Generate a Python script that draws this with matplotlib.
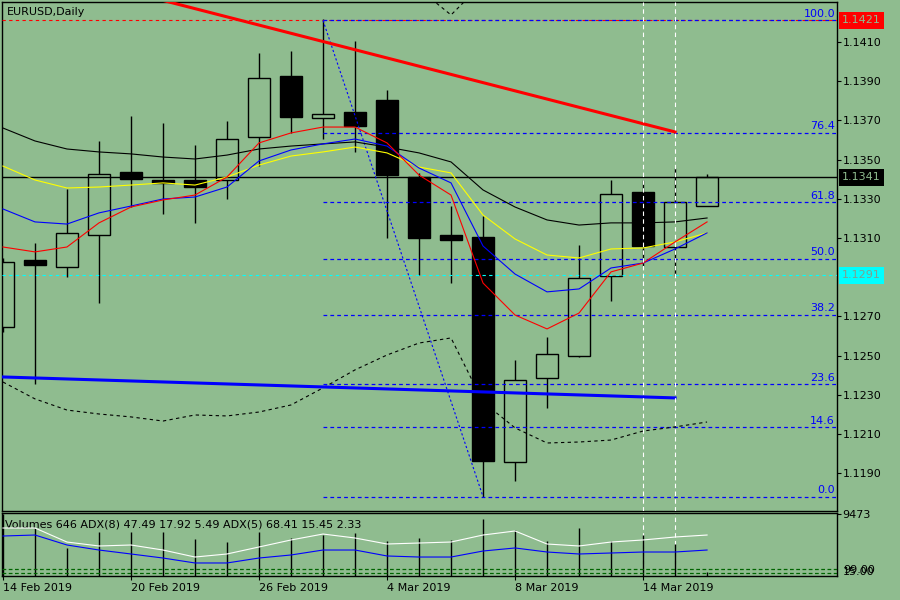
import numpy as np
import matplotlib
matplotlib.use("Agg")
import matplotlib.pyplot as plt

BG = "#8fbc8f"

# daily candles, 14 Feb .. 18 Mar 2019 (index = bar number)
opens = [1.12646, 1.12988, 1.12952, 1.13115, 1.13437, 1.13396, 1.13396, 1.13396,
         1.13615, 1.13927, 1.13712, 1.13743, 1.13804, 1.13411, 1.13115, 1.13105,
         1.11957, 1.12386, 1.12498, 1.12906, 1.13335, 1.13054, 1.13263]
highs = [1.13000, 1.13074, 1.13350, 1.13595, 1.13722, 1.13687, 1.13575, 1.13697,
         1.14044, 1.14054, 1.14217, 1.14105, 1.13855, 1.13432, 1.13263, 1.13212,
         1.12478, 1.12595, 1.13064, 1.13396, 1.13396, 1.13457, 1.13427]
lows = [1.12620, 1.12355, 1.12901, 1.12768, 1.13258, 1.13222, 1.13177, 1.13299,
        1.13467, 1.13636, 1.13605, 1.13539, 1.13100, 1.12911, 1.12870, 1.11779,
        1.11860, 1.12233, 1.12493, 1.12779, 1.12957, 1.12908, 1.13263]
closes = [1.12978, 1.12962, 1.13126, 1.13427, 1.13401, 1.13380, 1.13360, 1.13605,
          1.13916, 1.13717, 1.13733, 1.13671, 1.13421, 1.13100, 1.13090, 1.11962,
          1.12376, 1.12508, 1.12896, 1.13324, 1.13059, 1.13284, 1.13411]

ma_red = [1.13054, 1.13029, 1.13054, 1.13177, 1.13258, 1.13294, 1.13319, 1.13411,
          1.13585, 1.13636, 1.13666, 1.13666, 1.13585, 1.13421, 1.13319, 1.12870,
          1.12707, 1.12636, 1.12717, 1.12927, 1.12972, 1.13080, 1.13182]
ma_blue = [1.13248, 1.13182, 1.13171, 1.13228, 1.13263, 1.13299, 1.13309, 1.13360,
           1.13493, 1.13549, 1.13580, 1.13605, 1.13569, 1.13457, 1.13381, 1.13059,
           1.12916, 1.12825, 1.12840, 1.12947, 1.12972, 1.13044, 1.13126]
ma_yellow = [1.13467, 1.13396, 1.13355, 1.13360, 1.13370, 1.13381, 1.13370, 1.13411,
             1.13472, 1.13518, 1.13539, 1.13564, 1.13534, 1.13462, 1.13432, 1.13217,
             1.13095, 1.13013, 1.12998, 1.13044, 1.13049, 1.13080, 1.13126]
ma_black = [1.13661, 1.13595, 1.13554, 1.13539, 1.13529, 1.13513, 1.13503, 1.13523,
            1.13554, 1.13569, 1.13580, 1.13590, 1.13564, 1.13534, 1.13488, 1.13345,
            1.13258, 1.13192, 1.13166, 1.13177, 1.13177, 1.13182, 1.13202]
band_low = [1.12365, 1.12279, 1.12222, 1.12202, 1.12187, 1.12166, 1.12197, 1.12192,
            1.12212, 1.12248, 1.12335, 1.12427, 1.12503, 1.12564, 1.12590, 1.12263,
            1.12131, 1.12054, 1.12059, 1.12069, 1.12115, 1.12136, 1.12161]
band_up = [np.nan] * 13 + [1.14370, 1.14238, 1.14401] + [np.nan] * 7

volumes = [9473, 7334, 4278, 6723, 6723, 6723, 5653, 5195, 6723, 5806, 6264, 6570,
           5348, 5806, 5500, 8709, 7028, 5348, 7334, 5348, 6264, 4889, 646]
adx_white = [77.4, 77.4, 54.8, 48.4, 50.0, 41.9, 30.6, 35.5, 46.8, 58.1, 67.7, 61.3,
             51.6, 53.2, 54.8, 66.1, 72.6, 51.6, 48.4, 54.8, 58.1, 62.9, 66.1]
adx_blue = [64.5, 66.1, 50.0, 41.9, 35.5, 29.0, 21.0, 21.0, 29.0, 33.9, 41.9, 41.9,
            32.3, 30.6, 30.6, 40.3, 45.2, 38.7, 35.5, 37.1, 38.7, 38.7, 41.9]
adx_levels = [10.5, 5.6]

date_ticks = [0, 4, 8, 12, 16, 20]
date_labels = ["14 Feb 2019", "20 Feb 2019", "26 Feb 2019", "4 Mar 2019",
               "8 Mar 2019", "14 Mar 2019"]
price_ticks = [1.1410, 1.1390, 1.1370, 1.1350, 1.1330, 1.1310,
               1.1270, 1.1250, 1.1230, 1.1210, 1.1190]

fib_hi, fib_lo = 1.1421, 1.1178
fib_start, fib_end = 10, 15
fib_ratios = [0.0, 14.6, 23.6, 38.2, 50.0, 61.8, 76.4, 100.0]
red_trend = ([3, 21], [1.14396, 1.13641])
blue_trend = ([-0.03, 21], [1.12391, 1.12284])
last_price = 1.1341
cyan_price = 1.1291
vlines_k = [20, 21]

plt.rcParams['font.family'] = ['DejaVu Sans']
fig = plt.figure(figsize=(9, 6), dpi=100, facecolor=BG)
ax = fig.add_axes([2/900, 1 - 511/600, 835/900, 509/600], facecolor=BG)
axv = fig.add_axes([2/900, 1 - 576/600, 835/900, 63/600], facecolor=BG)

x = np.arange(len(opens))
ax.set_xlim(-0.03, 26.06)
ax.set_ylim(1.11707, 1.14304)

# candles
for i in x:
    o, h, l, c = opens[i], highs[i], lows[i], closes[i]
    top, bot = max(o, c), min(o, c)
    ax.vlines(i, top, h, color="black", lw=1, zorder=2)
    ax.vlines(i, l, bot, color="black", lw=1, zorder=2)
    if c >= o:
        ax.bar(i, top - bot, bottom=bot, width=0.69, facecolor="none",
               edgecolor="black", lw=1, zorder=2)
    else:
        ax.bar(i, max(top - bot, 0.00003), bottom=bot, width=0.69,
               facecolor="black", edgecolor="black", lw=1, zorder=2)

# horizontal levels
ax.axhline(last_price, color="black", lw=1, zorder=3)
ax.axhline(cyan_price, color="cyan", lw=0.8, ls=(0, (3, 3)), zorder=3)
ax.axhline(fib_hi, color="red", lw=0.8, ls=(0, (3, 3)), zorder=3)

# fibo
for r in fib_ratios:
    lvl = fib_lo + (fib_hi - fib_lo) * r / 100
    ax.plot([fib_start, 26.06], [lvl, lvl], color="blue", lw=0.9,
            ls=(0, (3, 2.5)), zorder=4)
    ax.annotate(f"{r:.1f}", xy=(0.9976, lvl), xycoords=("axes fraction", "data"),
                xytext=(0, 1), textcoords="offset points", ha="right", va="bottom",
                color="blue", fontsize=8)
ax.plot([fib_start, fib_end], [fib_hi, fib_lo], color="blue", lw=0.8,
        ls=(0, (2, 2)), zorder=4)

# moving averages and bands
ax.plot(x, ma_black, color="black", lw=0.8, zorder=5)
ax.plot(x, ma_yellow, color="yellow", lw=0.8, zorder=5)
ax.plot(x, ma_blue, color="blue", lw=0.8, zorder=5)
ax.plot(x, ma_red, color="red", lw=0.8, zorder=5)
ax.plot(x, band_low, color="black", lw=0.8, ls=(0, (3, 3)), zorder=5)
ax.plot(x, band_up, color="black", lw=0.8, ls=(0, (3, 3)), zorder=5)

# trend lines
ax.plot(*red_trend, color="red", lw=2.2, zorder=6)
ax.plot(*blue_trend, color="blue", lw=2.2, zorder=6)

for k in vlines_k:
    ax.axvline(k, color="white", lw=0.8, ls=(0, (4, 3)), zorder=6)
    axv.axvline(k, color="white", lw=0.8, ls=(0, (4, 3)), zorder=1)

ax.text(0.006, 0.980, "EURUSD,Daily", transform=ax.transAxes, fontsize=8,
        va="center", ha="left")

ax.set_xticks([])
ax.yaxis.tick_right()
ax.set_yticks(price_ticks)
ax.set_yticklabels([f"{t:.4f}" for t in price_ticks])
ax.tick_params(axis="y", direction="out", length=3, width=0.8, pad=1, labelsize=8)

for price, fc, tc in [(fib_hi, "red", BG), (last_price, "black", BG),
                      (cyan_price, "cyan", "#7fa090")]:
    ax.annotate(f"{price:.4f}", xy=(1.0, price), xycoords=("axes fraction", "data"),
                xytext=(3.5, 0), textcoords="offset points", ha="left", va="center",
                fontsize=8, color=tc, annotation_clip=False,
                bbox=dict(boxstyle="square,pad=0.3", fc=fc, ec="none"))

for sp in ax.spines.values():
    sp.set_color("black")
    sp.set_linewidth(1)

# indicator window
axv.set_xlim(-0.03, 26.06)
axv.set_ylim(0, 9473 * 63 / 62)
axv.vlines(x, 0, volumes, color="black", lw=1, zorder=2)
axa = axv.twinx()
axa.set_ylim(0, 100 * 63 / 62)
axa.plot(x, adx_white, color="white", lw=0.8)
axa.plot(x, adx_blue, color="blue", lw=0.8)
for lv in adx_levels:
    axa.axhline(lv, color="#006400", lw=0.9, ls=(0, (3, 2)))
axa.set_yticks([])
for sp in axa.spines.values():
    sp.set_visible(False)

axv.yaxis.tick_right()
axv.set_yticks([9473])
axv.set_yticklabels(["9473"])
axv.tick_params(axis="y", direction="out", length=3, width=0.8, pad=1, labelsize=8)
# two level labels that sit almost on top of each other, as in the terminal
axv.annotate("99.00", xy=(1.0, 0.10), xycoords="axes fraction", xytext=(4.5, 0),
             textcoords="offset points", ha="left", va="center", fontsize=8,
             annotation_clip=False)
axv.annotate("15.00", xy=(1.0, 0.06), xycoords="axes fraction", xytext=(4.5, 0),
             textcoords="offset points", ha="left", va="center", fontsize=8,
             annotation_clip=False)

axv.set_xticks(date_ticks)
axv.set_xticklabels(date_labels)
for lab in axv.get_xticklabels():
    lab.set_horizontalalignment("left")
axv.tick_params(axis="x", direction="out", length=3, width=0.8, pad=2, labelsize=8)

axv.text(0.004, 0.82, "Volumes 646 ADX(8) 47.49 17.92 5.49 ADX(5) 68.41 15.45 2.33",
         transform=axv.transAxes, fontsize=8, va="center", ha="left", zorder=5)
for sp in axv.spines.values():
    sp.set_color("black")
    sp.set_linewidth(1)

fig.savefig("out.png", dpi=100, facecolor=BG)
